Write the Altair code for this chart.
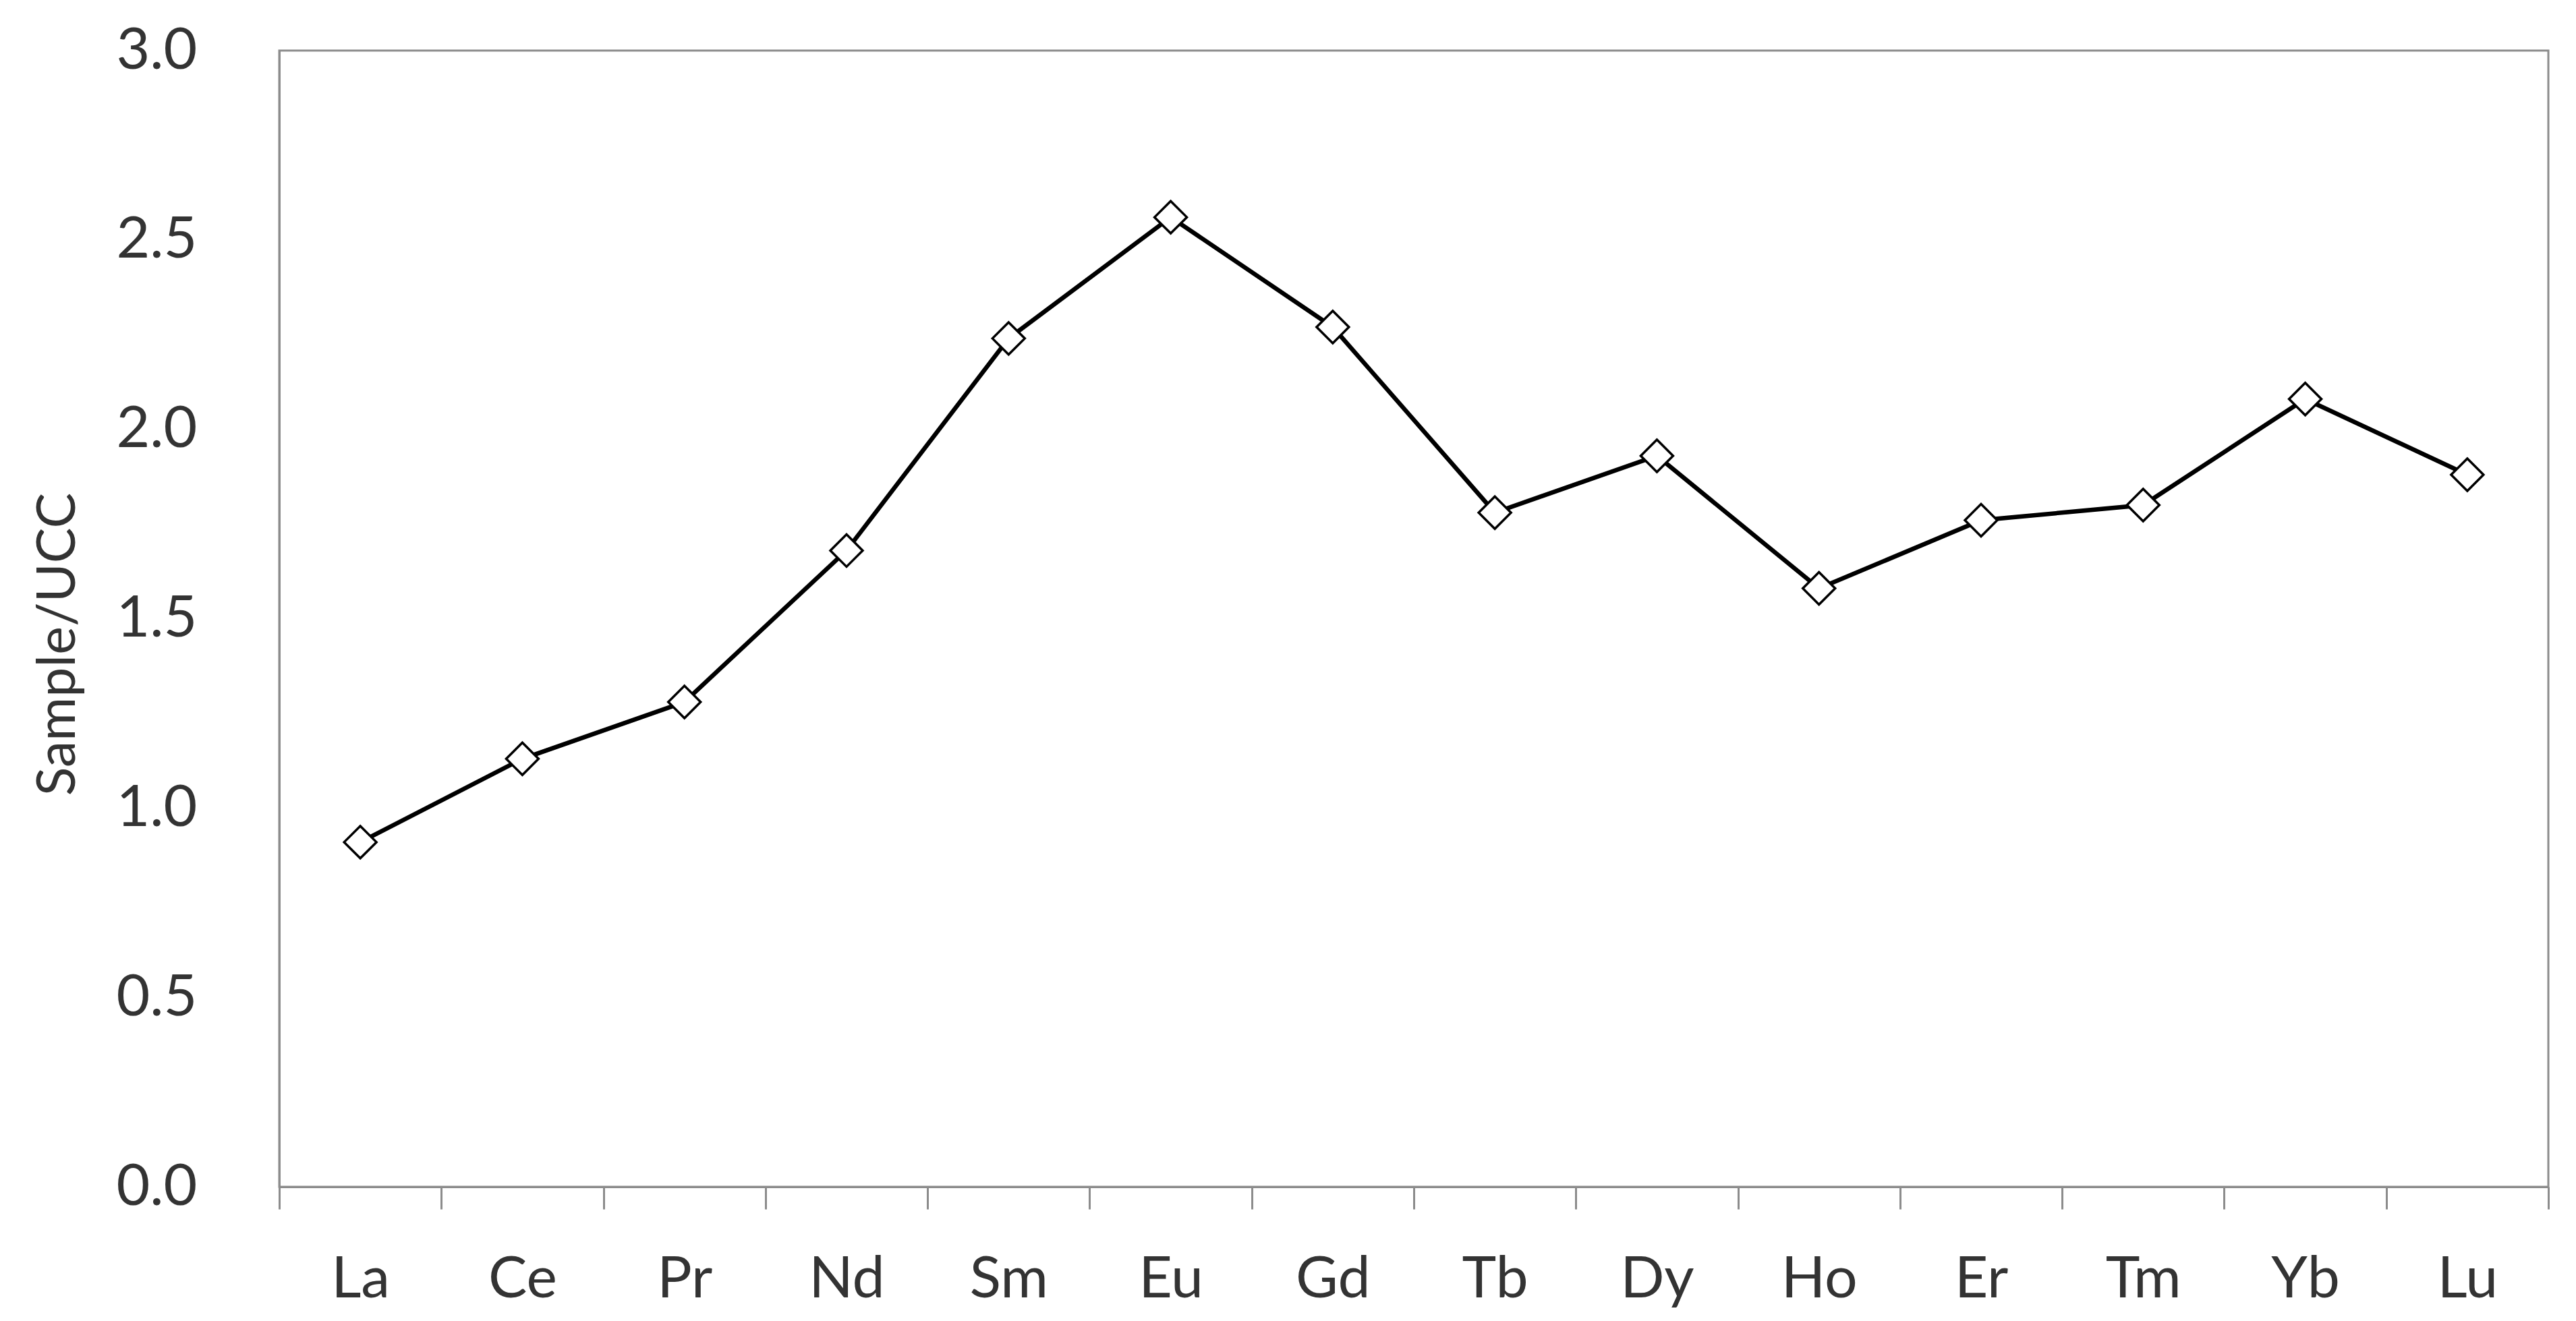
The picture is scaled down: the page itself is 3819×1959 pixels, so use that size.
import altair as alt
import pandas as pd

elements = ["La", "Ce", "Pr", "Nd", "Sm", "Eu", "Gd", "Tb", "Dy", "Ho", "Er", "Tm", "Yb", "Lu"]
ratio = [0.91, 1.13, 1.28, 1.68, 2.24, 2.56, 2.27, 1.78, 1.93, 1.58, 1.76, 1.80, 2.08, 1.88]
y_ticks = [0.0, 0.5, 1.0, 1.5, 2.0, 2.5, 3.0]

df = pd.DataFrame({"element": elements, "ratio": ratio})

FONT = "Lato"
GREY = "#8c8c8c"
TEXT = "#333333"

x_enc = alt.X(
    "element:N",
    sort=elements,
    scale=alt.Scale(paddingInner=0, paddingOuter=0),
    axis=alt.Axis(
        title=None,
        labelAngle=0,
        labelFont=FONT,
        labelFontSize=86,
        labelColor=TEXT,
        labelBaseline="alphabetic",
        labelPadding=130,
        tickBand="extent",
        tickSize=33,
        tickWidth=3,
        tickColor=GREY,
        domainColor=GREY,
        domainWidth=3,
        grid=False,
    ),
)

y_enc = alt.Y(
    "ratio:Q",
    scale=alt.Scale(domain=[0, 3], nice=False, zero=True),
    axis=alt.Axis(
        title="Sample/UCC",
        values=y_ticks,
        format=".1f",
        labelFont=FONT,
        labelFontSize=86,
        labelColor=TEXT,
        labelPadding=122,
        ticks=False,
        domainColor=GREY,
        domainWidth=3,
        grid=False,
        titleFont=FONT,
        titleFontSize=79,
        titleFontWeight="normal",
        titleColor=TEXT,
        titleAngle=-90,
        titleAlign="center",
        titleBaseline="alphabetic",
        titleX=-304,
        titleY=880,
    ),
)

line = alt.Chart(df).mark_line(color="black", strokeWidth=6.5).encode(x=x_enc, y=y_enc)
points = alt.Chart(df).mark_point(
    shape="diamond", filled=True, fill="white", stroke="black", strokeWidth=3.5, size=2300, opacity=1
).encode(x=x_enc, y=y_enc)

chart = (
    alt.layer(line, points)
    .properties(
        width=3364,
        height=1685,
        autosize=alt.AutoSizeParams(type="none"),
        padding={"left": 406, "top": 67, "right": 30, "bottom": 180},
        background="white",
    )
    .configure_view(stroke=GREY, strokeWidth=3)
)

chart.save("out.html", embed_options={"renderer": "svg", "actions": False})
